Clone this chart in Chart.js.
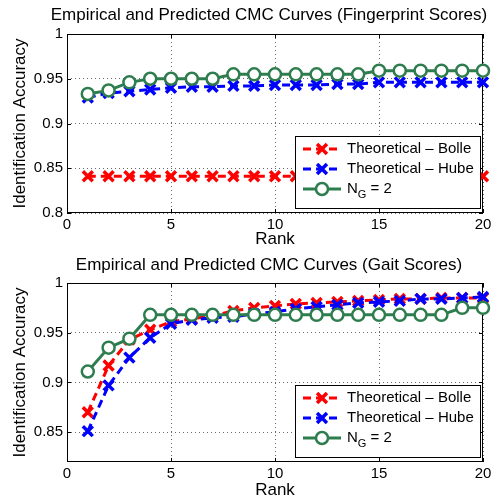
<!DOCTYPE html>
<html>
<head>
<meta charset="utf-8">
<script src="https://cdn.jsdelivr.net/npm/chart.js@4.4.0/dist/chart.umd.min.js"></script>
<style>
    body { margin: 0; background: #fff; }
    canvas { position: absolute; left: 0; }
    #fpChart { top: 0; }
    #gaitChart { top: 250px; }
</style>
</head>
<body>
<canvas id="fpChart" width="503" height="250"></canvas>
<canvas id="gaitChart" width="503" height="251"></canvas>
<script>
const ranks = [1, 2, 3, 4, 5, 6, 7, 8, 9, 10, 11, 12, 13, 14, 15, 16, 17, 18, 19, 20];
const seriesNames = ['Theoretical \u2013 Bolle', 'Theoretical \u2013 Hube', 'N_G = 2'];

// fingerprint scores
const fpBolle = [0.841, 0.841, 0.841, 0.841, 0.841, 0.841, 0.841, 0.841, 0.841, 0.841,
                 0.841, 0.841, 0.841, 0.841, 0.841, 0.841, 0.841, 0.841, 0.841, 0.841];
const fpHube = [0.929, 0.934, 0.936, 0.938, 0.940, 0.941, 0.941, 0.942, 0.942, 0.943,
                0.943, 0.943, 0.944, 0.944, 0.946, 0.946, 0.946, 0.946, 0.946, 0.946];
const fpEmp = [0.933, 0.937, 0.946, 0.950, 0.950, 0.950, 0.950, 0.955, 0.955, 0.955,
               0.955, 0.955, 0.955, 0.955, 0.959, 0.959, 0.959, 0.959, 0.959, 0.959];

// gait scores
const gaitBolle = [0.870, 0.917, 0.943, 0.953, 0.961, 0.964, 0.967, 0.972, 0.975, 0.977,
                   0.979, 0.980, 0.981, 0.982, 0.983, 0.984, 0.984, 0.985, 0.985, 0.985];
const gaitHube = [0.851, 0.897, 0.925, 0.945, 0.959, 0.963, 0.965, 0.966, 0.969, 0.971,
                  0.974, 0.976, 0.978, 0.980, 0.981, 0.982, 0.984, 0.984, 0.985, 0.986];
const gaitEmp = [0.911, 0.935, 0.944, 0.968, 0.968, 0.968, 0.968, 0.968, 0.968, 0.968,
                 0.968, 0.968, 0.968, 0.968, 0.968, 0.968, 0.968, 0.968, 0.975, 0.975];

const xTicks = [0, 5, 10, 15, 20];
const fpYTicks = [0.8, 0.85, 0.9, 0.95, 1];
const gaitYTicks = [0.85, 0.9, 0.95, 1];

const RED = '#ff0000';
const BLUE = '#0000ff';
const GREEN = '#2e7d4e';
const FONT = '"Liberation Sans", Arial, sans-serif';

Chart.defaults.font.family = FONT;
Chart.defaults.color = '#000';

// title centred a bit left of the plot, like the original (not squeezed to the plot width)
const plotTitle = {
    id: 'plotTitle',
    afterDraw(chart, args, opts) {
        const { ctx, chartArea: a } = chart;
        ctx.save();
        ctx.fillStyle = '#000';
        ctx.font = '17px ' + FONT;
        ctx.textAlign = 'center';
        ctx.textBaseline = 'middle';
        ctx.fillText(opts.text, (a.left + a.right) / 2 - 6, 15);
        ctx.restore();
    }
};

// axes box with inward tick marks, drawn under the markers
const framePlugin = {
    id: 'frame',
    beforeDatasetsDraw(chart) {
        const { ctx, chartArea: a, scales } = chart;
        ctx.save();
        ctx.strokeStyle = '#000';
        ctx.lineWidth = 1;
        ctx.strokeRect(a.left + 0.5, a.top + 0.5, a.right - a.left - 1, a.bottom - a.top - 1);
        ctx.beginPath();
        scales.x.ticks.forEach(t => {
            const p = Math.round(scales.x.getPixelForValue(t.value)) + 0.5;
            ctx.moveTo(p, a.bottom); ctx.lineTo(p, a.bottom - 4);
            ctx.moveTo(p, a.top); ctx.lineTo(p, a.top + 4);
        });
        scales.y.ticks.forEach(t => {
            const p = Math.round(scales.y.getPixelForValue(t.value)) + 0.5;
            ctx.moveTo(a.left, p); ctx.lineTo(a.left + 4, p);
            ctx.moveTo(a.right, p); ctx.lineTo(a.right - 4, p);
        });
        ctx.stroke();
        ctx.restore();
    }
};

function drawMarker(ctx, ds, x, y) {
    ctx.setLineDash([]);
    ctx.strokeStyle = ds.borderColor;
    ctx.lineWidth = ds.pointBorderWidth;
    if (ds.pointStyle === 'circle') {
        ctx.beginPath();
        ctx.arc(x, y, ds.pointRadius, 0, Math.PI * 2);
        ctx.fillStyle = '#fff';
        ctx.fill();
        ctx.stroke();
    } else {
        const d = ds.pointRadius * Math.SQRT1_2;
        ctx.beginPath();
        ctx.moveTo(x - d, y - d); ctx.lineTo(x + d, y + d);
        ctx.moveTo(x - d, y + d); ctx.lineTo(x + d, y - d);
        ctx.stroke();
    }
}

// legend box inside the lower right of the plot
const boxLegend = {
    id: 'boxLegend',
    afterDraw(chart) {
        const { ctx, chartArea: a } = chart;
        const w = 185, h = 72;
        const x = a.right - 3 - w;
        const y = a.bottom - 5 - h;
        ctx.save();
        ctx.fillStyle = '#fff';
        ctx.fillRect(x, y, w, h);
        ctx.strokeStyle = '#000';
        ctx.lineWidth = 1;
        ctx.strokeRect(x + 0.5, y + 0.5, w, h);
        chart.data.datasets.forEach((ds, i) => {
            const cy = y + 13 + i * 20;
            ctx.strokeStyle = ds.borderColor;
            ctx.lineWidth = ds.borderWidth;
            ctx.setLineDash(ds.borderDash || []);
            ctx.beginPath();
            ctx.moveTo(x + 8, cy);
            ctx.lineTo(x + 46, cy);
            ctx.stroke();
            drawMarker(ctx, ds, x + 27, cy);

            ctx.fillStyle = '#000';
            ctx.textBaseline = 'middle';
            ctx.font = '15px ' + FONT;
            const parts = ds.label.split('_');
            let tx = x + 52;
            if (parts.length === 2) {
                ctx.fillText(parts[0], tx, cy);
                tx += ctx.measureText(parts[0]).width;
                const sub = parts[1].charAt(0);
                ctx.font = '11px ' + FONT;
                ctx.fillText(sub, tx, cy + 6);
                tx += ctx.measureText(sub).width;
                ctx.font = '15px ' + FONT;
                ctx.fillText(parts[1].slice(1), tx, cy);
            } else {
                ctx.fillText(ds.label, tx, cy);
            }
        });
        ctx.restore();
    }
};

function points(values) {
    return ranks.map((r, i) => ({ x: r, y: values[i] }));
}

function makeChart(id, titleText, bolle, hube, emp, yMin, yTicks, topPad, xHeight) {
    const ctx = document.getElementById(id).getContext('2d');
    return new Chart(ctx, {
        type: 'line',
        data: {
            datasets: [{
                label: seriesNames[0],
                data: points(bolle),
                borderColor: RED,
                borderWidth: 3,
                borderDash: [8, 5],
                pointStyle: 'crossRot',
                pointRadius: 7,
                pointBorderWidth: 3.5,
                clip: false,
                order: 3
            }, {
                label: seriesNames[1],
                data: points(hube),
                borderColor: BLUE,
                borderWidth: 3,
                borderDash: [8, 5],
                pointStyle: 'crossRot',
                pointRadius: 7,
                pointBorderWidth: 3.5,
                clip: false,
                order: 2
            }, {
                label: seriesNames[2],
                data: points(emp),
                borderColor: GREEN,
                borderWidth: 3,
                pointStyle: 'circle',
                pointRadius: 6,
                pointBorderWidth: 2.5,
                pointBackgroundColor: '#fff',
                clip: false,
                order: 1
            }]
        },
        options: {
            responsive: false,
            animation: false,
            layout: { padding: { left: 0, right: 20, top: topPad, bottom: 0 } },
            plugins: {
                legend: { display: false },
                tooltip: { enabled: false },
                title: { display: false },
                plotTitle: { text: titleText }
            },
            scales: {
                x: {
                    type: 'linear',
                    min: 0,
                    max: 20,
                    afterBuildTicks: s => { s.ticks = xTicks.map(v => ({ value: v })); },
                    afterFit: s => { s.height = xHeight; },
                    ticks: { font: { size: 15 }, padding: 3, maxRotation: 0 },
                    grid: { color: '#666', drawTicks: false },
                    border: { display: false, dash: [1, 3] },
                    title: { display: true, text: 'Rank', font: { size: 17 }, padding: 0 }
                },
                y: {
                    min: yMin,
                    max: 1,
                    afterBuildTicks: s => { s.ticks = yTicks.map(v => ({ value: v })); },
                    afterFit: s => { s.width = 67; },
                    ticks: { font: { size: 15 }, padding: 4, callback: v => String(v) },
                    grid: { color: '#666', drawTicks: false },
                    border: { display: false, dash: [1, 3] },
                    title: { display: true, text: 'Identification Accuracy', font: { size: 17 }, padding: { top: 10, bottom: 0 } }
                }
            }
        },
        plugins: [framePlugin, boxLegend, plotTitle]
    });
}

document.addEventListener('DOMContentLoaded', function() {
    makeChart('fpChart', 'Empirical and Predicted CMC Curves (Fingerprint Scores)',
        fpBolle, fpHube, fpEmp, 0.8, fpYTicks, 34, 37);
    makeChart('gaitChart', 'Empirical and Predicted CMC Curves (Gait Scores)',
        gaitBolle, gaitHube, gaitEmp, 0.82, gaitYTicks, 33, 39);
});
</script>
</body>
</html>
